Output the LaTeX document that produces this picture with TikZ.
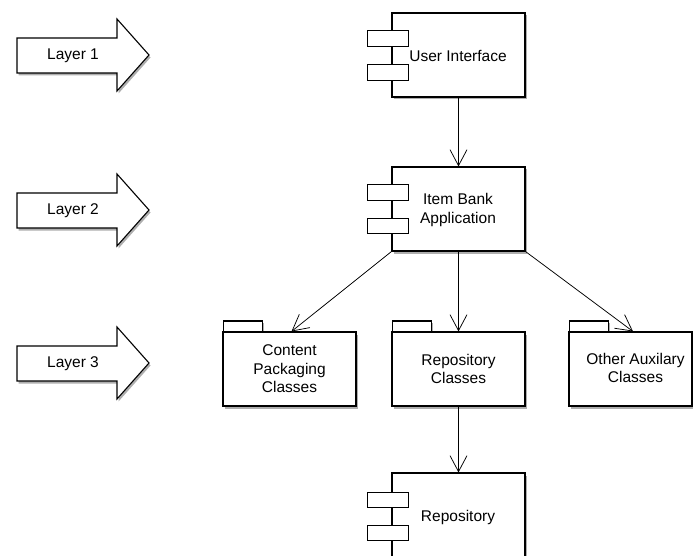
\documentclass[tikz,border=0pt]{standalone}
\usepackage{fontspec}
\setmainfont{Liberation Sans}
\usetikzlibrary{arrows.meta,shadows}
\begin{document}
\begin{tikzpicture}[x=1pt,y=-1pt,
  font=\fontsize{15.5}{18.5}\selectfont,
  shad/.style={drop shadow={opacity=0.45,fill=black!70,shadow xshift=1.5pt,shadow yshift=-2.5pt}},
  comp/.style={draw=black,line width=1.1pt,fill=white,shad,minimum width=133pt,minimum height=84pt,inner sep=0pt,align=center},
  port/.style={draw=black,line width=1.1pt,fill=white,minimum width=41pt,minimum height=15.5pt,inner sep=0pt},
  pkg/.style={draw=black,line width=1.1pt,fill=white,shad,minimum width=133pt,minimum height=74pt,inner sep=0pt,align=center},
  tab/.style={draw=black,line width=1.1pt,fill=white,shad,minimum width=39pt,minimum height=11pt,inner sep=0pt,anchor=south west},
  layerarrow/.style={draw=black,line width=1.1pt,fill=white,shad},
  arr/.style={draw=black,line width=0.75pt,-{Straight Barb[length=16pt,width=17pt,line width=0.75pt]}}
]
\useasboundingbox (0,0) rectangle (693,556);

% Layer arrows
\foreach \dy/\t/\n in {0/Layer 1/l1,155/Layer 2/l2,308/Layer 3/l3}{
  \draw[layerarrow] (17,38+\dy) -- (117,38+\dy) -- (117,19+\dy) -- (149,55+\dy)
     -- (117,91+\dy) -- (117,73+\dy) -- (17,73+\dy) -- cycle;
  \node (\n) at (73,55.5+\dy) {\t};
}

% Components
\node[comp] (ui) at (458.5,55) {};
\node[port] (uip1) at (388,38.5) {};
\node[port] (uip2) at (388,72.5) {};
\node (uit) at (458,55.5) {User Interface};

\node[comp] (ib) at (458.5,209) {};
\node[port] (ibp1) at (388,192.5) {};
\node[port] (ibp2) at (388,226) {};
\node[align=center] (ibt) at (458,210) {Item Bank\\Application};

\node[comp] (rep) at (458.5,515) {};
\node[port] (repp1) at (388,500) {};
\node[port] (repp2) at (388,533) {};
\node (rept) at (458,517) {Repository};

% Packages
\node[tab] (cpctab) at (223,332.5) {};
\node[pkg] (cpc) at (289.5,369) {Content\\Packaging\\Classes};
\node[tab] (rctab) at (392,332.5) {};
\node[pkg] (rc) at (458.5,369) {Repository\\Classes};
\node[tab] (oactab) at (569,332.5) {};
\node[pkg,minimum width=123pt] (oac) at (630.5,369) {};
\node[align=center] (oact) at (635.5,368) {Other Auxilary\\Classes};

% Connectors
\draw[arr] (ui.south) -- (ib.north);
\draw[arr] (ib.south west) -- ([xshift=2pt]cpc.north);
\draw[arr] (ib.south) -- (rc.north);
\draw[arr] (ib.south east) -- ([xshift=2.5pt]oac.north);
\draw[arr] (rc.south) -- (rep.north);
\end{tikzpicture}
\end{document}
